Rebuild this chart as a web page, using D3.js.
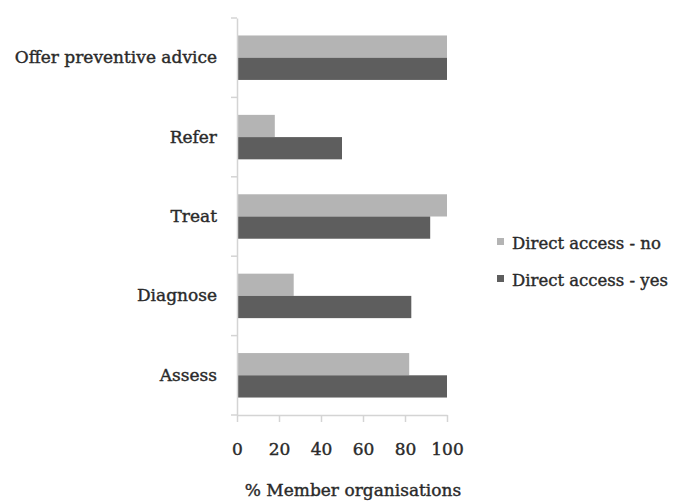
<!DOCTYPE html>
<html>
<head>
<meta charset="utf-8">
<script src="https://cdn.jsdelivr.net/npm/d3@7"></script>
<style>
  body { margin: 0; background: #fff; }
  text { font-family: "DejaVu Serif", serif; fill: #2a2a2a; stroke: #2a2a2a; stroke-width: 0.4px; }
</style>
</head>
<body>
<div id="chart"></div>
<script>
// categories top to bottom
const categories = ['Offer preventive advice', 'Refer', 'Treat', 'Diagnose', 'Assess']
const seriesNames = ['Direct access - no', 'Direct access - yes']
const accessNo = [100, 18, 100, 27, 82]
const accessYes = [100, 50, 92, 83, 100]
const xTicks = [0, 20, 40, 60, 80, 100]
const colors = ['#b4b4b4', '#5e5e5e']

const fullWidth = 678
const fullHeight = 502

const svg = d3.select('#chart')
    .append('svg')
    .attr('width', fullWidth)
    .attr('height', fullHeight)

const x = d3.scaleLinear()
    .domain([0, 100])
    .range([237, 447])

const y = d3.scaleBand()
    .domain(categories)
    .range([18, 415])
    .paddingInner(0.44)
    .paddingOuter(0.22)

const ySub = d3.scaleBand()
    .domain(seriesNames)
    .range([0, y.bandwidth()])

const data = categories.map((c, i) => ({
    cat: c,
    values: [
        { series: seriesNames[0], value: accessNo[i] },
        { series: seriesNames[1], value: accessYes[i] }
    ]
}))

// bars
const groups = svg.append('g')
    .selectAll('g')
    .data(data)
    .enter()
    .append('g')
    .attr('transform', d => 'translate(0,' + y(d.cat) + ')')

groups.selectAll('rect')
    .data(d => d.values)
    .enter()
    .append('rect')
    .attr('x', x(0))
    .attr('y', d => ySub(d.series))
    .attr('width', d => x(d.value) - x(0))
    .attr('height', ySub.bandwidth())
    .attr('fill', (d, i) => colors[i])

// y axis: labels at centres, ticks on the band edges
const yAxis = svg.append('g')
    .attr('transform', 'translate(' + x(0) + ',0)')
    .call(d3.axisLeft(y).tickSize(0).tickPadding(20))

yAxis.select('.domain').attr('stroke', '#d4d4d4').attr('stroke-width', 1.5)
yAxis.selectAll('text').attr('font-size', 17)

const edges = d3.range(categories.length + 1).map(i => y.range()[0] + i * y.step())
yAxis.selectAll('.edge')
    .data(edges)
    .enter()
    .append('line')
    .attr('class', 'edge')
    .attr('x1', -6)
    .attr('x2', 0)
    .attr('y1', d => d)
    .attr('y2', d => d)
    .attr('stroke', '#d4d4d4')
    .attr('stroke-width', 1.5)

// x axis
const xAxis = svg.append('g')
    .attr('transform', 'translate(0,' + y.range()[1] + ')')
    .call(d3.axisBottom(x).tickValues(xTicks).tickSize(7).tickPadding(21).tickSizeOuter(0))

xAxis.select('.domain').attr('stroke', '#d4d4d4').attr('stroke-width', 1.5)
xAxis.selectAll('.tick line').attr('stroke', '#d4d4d4').attr('stroke-width', 1.5)
xAxis.selectAll('text').attr('font-size', 17)

svg.append('text')
    .attr('x', (x(0) + x(100)) / 2 + 11)
    .attr('y', 496)
    .attr('text-anchor', 'middle')
    .attr('font-size', 17)
    .text('% Member organisations')

// legend
const legend = svg.append('g')
    .selectAll('g')
    .data(seriesNames)
    .enter()
    .append('g')
    .attr('transform', (d, i) => 'translate(497,' + (238 + i * 37) + ')')

legend.append('rect')
    .attr('width', 7)
    .attr('height', 7)
    .attr('fill', (d, i) => colors[i])

legend.append('text')
    .attr('x', 15)
    .attr('y', 6)
    .attr('dy', '0.32em')
    .attr('font-size', 16.5)
    .text(d => d)
</script>
</body>
</html>
